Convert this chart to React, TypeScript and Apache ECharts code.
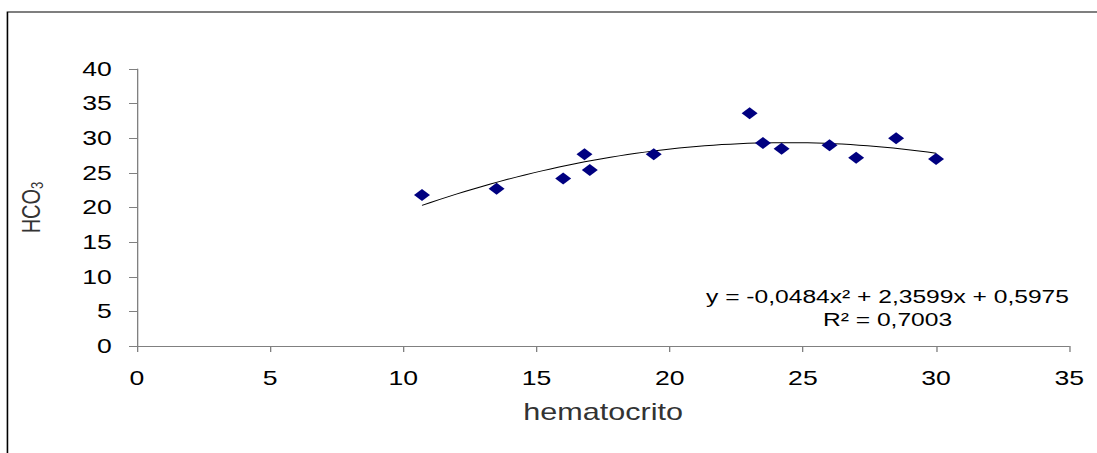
import React, { useEffect, useRef } from "react";
import * as echarts from "echarts";

// horizontal stretch applied to the whole chart surface
const S = 1.33;
const OUT_W = 1097;
const OUT_H = 453;
const W = OUT_W / S;

// measured samples: hematocrito vs HCO3
const hematocrito = [10.7, 13.5, 16.0, 16.8, 17.0, 19.4, 23.0, 23.5, 24.2, 26.0, 27.0, 28.5, 30.0];
const hco3 = [21.8, 22.7, 24.2, 27.7, 25.4, 27.7, 33.6, 29.3, 28.5, 29.0, 27.2, 30.0, 27.0];

// polynomial trend (order 2) coefficients: c2, c1, c0
const trendCoef = [-0.0484, 2.3599, 0.5975];
const trendRange = [10.7, 30.0];

const xTicks = { min: 0, max: 35, interval: 5 };
const yTicks = { min: 0, max: 40, interval: 5 };

const eqLine1 = "y = -0,0484x² + 2,3599x + 0,5975";
const eqLine2 = "R² = 0,7003";

const FONT = "Liberation Sans, Arial, sans-serif";

export default function App() {
  const ref = useRef<HTMLDivElement>(null);

  useEffect(() => {
    if (!ref.current) return;
    const chart = echarts.init(ref.current, null, { renderer: "svg" });

    const trend: number[][] = [];
    const steps = 60;
    for (let i = 0; i <= steps; i++) {
      const x = trendRange[0] + ((trendRange[1] - trendRange[0]) * i) / steps;
      trend.push([x, trendCoef[0] * x * x + trendCoef[1] * x + trendCoef[2]]);
    }

    const axisLine = { show: true, lineStyle: { color: "#808080", width: 1 } };

    chart.setOption({
      animation: false,
      backgroundColor: "#ffffff",
      grid: { left: 137 / S, right: W - 1069 / S, top: 69, bottom: OUT_H - 346 },
      xAxis: {
        type: "value",
        min: xTicks.min,
        max: xTicks.max,
        interval: xTicks.interval,
        axisLine,
        axisTick: { show: true, length: 6, lineStyle: { color: "#808080" } },
        splitLine: { show: false },
        axisLabel: { color: "#000", fontSize: 20, fontFamily: FONT, margin: 22 },
        name: "hematocrito",
        nameLocation: "middle",
        nameGap: 55,
        nameTextStyle: { color: "#333", fontSize: 23, fontFamily: FONT },
      },
      yAxis: {
        type: "value",
        min: yTicks.min,
        max: yTicks.max,
        interval: yTicks.interval,
        axisLine,
        axisTick: { show: true, length: 6, lineStyle: { color: "#808080" } },
        splitLine: { show: false },
        axisLabel: { color: "#000", fontSize: 20, fontFamily: FONT, margin: 19 },
        name: "{a|HCO}{b|3}",
        nameLocation: "middle",
        nameGap: 69,
        nameTextStyle: {
          color: "#333",
          fontFamily: FONT,
          rich: {
            a: { fontSize: 20, fontFamily: FONT, color: "#333" },
            b: { fontSize: 13, fontFamily: FONT, color: "#333", verticalAlign: "bottom", padding: [9, 0, 0, 0] },
          },
        },
      },
      series: [
        {
          type: "line",
          data: trend,
          showSymbol: false,
          smooth: false,
          lineStyle: { color: "#000", width: 1 },
          z: 2,
        },
        {
          type: "scatter",
          data: hematocrito.map((x, i) => [x, hco3[i]]),
          symbol: "diamond",
          symbolSize: 12,
          itemStyle: { color: "#000080", opacity: 1 },
          z: 3,
        },
      ],
      graphic: [
        {
          type: "rect",
          shape: { x: 5.6, y: 12, width: W + 20, height: OUT_H + 20 },
          style: { fill: "none", stroke: "#000", lineWidth: 1.2 },
          silent: true,
        },
        {
          type: "text",
          x: 887.5 / S,
          y: 297,
          style: {
            text: eqLine1,
            fontSize: 18.5,
            fontFamily: FONT,
            fill: "#000",
            textAlign: "center",
            textVerticalAlign: "middle",
          },
        },
        {
          type: "text",
          x: 887.5 / S,
          y: 320,
          style: {
            text: eqLine2,
            fontSize: 18.5,
            fontFamily: FONT,
            fill: "#000",
            textAlign: "center",
            textVerticalAlign: "middle",
          },
        },
      ],
    });

    return () => chart.dispose();
  }, []);

  return (
    <div
      style={{
        position: "absolute",
        left: 0,
        top: 0,
        width: OUT_W,
        height: OUT_H,
        overflow: "hidden",
        background: "#fff",
      }}
    >
      <div
        ref={ref}
        style={{
          width: W,
          height: OUT_H,
          transform: `scaleX(${S})`,
          transformOrigin: "0 0",
        }}
      />
    </div>
  );
}
